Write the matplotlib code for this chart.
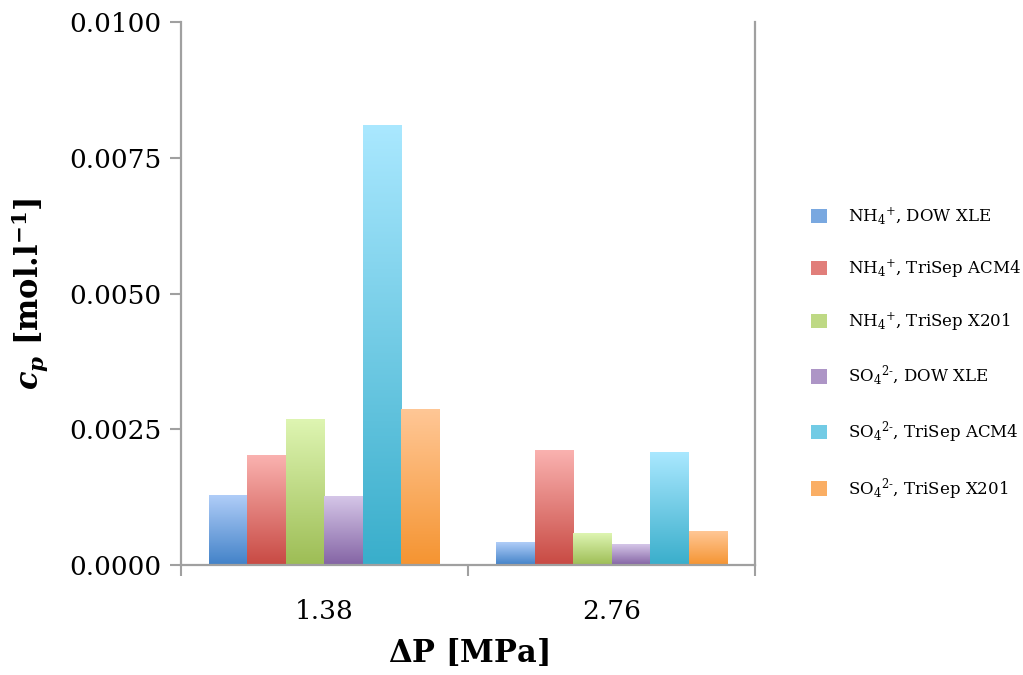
import matplotlib
matplotlib.use("Agg")
import matplotlib.pyplot as plt
import numpy as np
from matplotlib.colors import LinearSegmentedColormap
from matplotlib.patches import Patch

plt.rcParams['font.family'] = 'DejaVu Serif'
plt.rcParams['mathtext.fontset'] = 'dejavuserif'

pressures = ['1.38', '2.76']
series = [r'NH$_4{}^{+}$, DOW XLE',
          r'NH$_4{}^{+}$, TriSep ACM4',
          r'NH$_4{}^{+}$, TriSep X201',
          r'SO$_4{}^{2\text{-}}$, DOW XLE',
          r'SO$_4{}^{2\text{-}}$, TriSep ACM4',
          r'SO$_4{}^{2\text{-}}$, TriSep X201']
nh4_dow = [0.00129, 0.00041]
nh4_acm4 = [0.00201, 0.00212]
nh4_x201 = [0.00269, 0.00059]
so4_dow = [0.00127, 0.00037]
so4_acm4 = [0.00810, 0.00208]
so4_x201 = [0.00287, 0.00061]
values = [nh4_dow, nh4_acm4, nh4_x201, so4_dow, so4_acm4, so4_x201]

# (top colour, bottom colour) for the Excel style gradient fill
colors = [('#b0cdf8', '#4282c8'),
          ('#fab2b0', '#c84a43'),
          ('#def5b2', '#9dbd55'),
          ('#d5c6e8', '#8464a4'),
          ('#aae8ff', '#39aecb'),
          ('#ffc796', '#f59431')]

fig = plt.figure(figsize=(10.23, 6.75), dpi=100)
ax = fig.add_axes([0.1766, 0.1634, 0.7383 - 0.1766, 0.9668 - 0.1634])

x = np.arange(len(pressures))
w = 0.134
grad = np.linspace(0, 1, 256).reshape(-1, 1)
for i, vals in enumerate(values):
    bars = ax.bar(x + (i - 2.5) * w, vals, w, color='none', edgecolor='none')
    cmap = LinearSegmentedColormap.from_list('g%d' % i, [colors[i][1], colors[i][0]])
    for b in bars:
        x0, y0 = b.get_x(), b.get_y()
        ax.imshow(grad, cmap=cmap, origin='lower', aspect='auto',
                  interpolation='bicubic',
                  extent=(x0, x0 + b.get_width(), y0, y0 + b.get_height()),
                  zorder=2)

ax.set_xlim(-0.5, 1.5)
ax.set_ylim(0, 0.01)
ax.set_yticks(np.arange(0, 0.0101, 0.0025))
ax.set_yticklabels(['%.4f' % v for v in np.arange(0, 0.0101, 0.0025)])
ax.set_xticks(x)
ax.set_xticklabels(pressures)
ax.set_xticks([-0.5, 0.5, 1.5], minor=True)
ax.tick_params(axis='x', which='major', length=0, labelsize=19, pad=25)
ax.tick_params(axis='x', which='minor', length=8, width=1.5, color='#a0a0a0')
ax.tick_params(axis='y', length=8, width=1.5, color='#a0a0a0', labelsize=19, pad=6)

for s in ['left', 'right', 'bottom']:
    ax.spines[s].set_color('#a0a0a0')
    ax.spines[s].set_linewidth(1.6)
ax.spines['top'].set_visible(False)

ax.set_xlabel(r'$\mathbf{\Delta}$P [MPa]', fontsize=22, fontweight='bold', labelpad=9)
ax.set_ylabel(r'$\mathbfit{c}_{\mathbfit{p}}$ [mol.l$^{\mathbf{-1}}$]',
              fontsize=22, fontweight='bold', labelpad=14)

handles = [Patch(facecolor=LinearSegmentedColormap.from_list('h', [c[1], c[0]])(0.5))
           for c in colors]
fig.legend(handles, series, loc='center left', bbox_to_anchor=(0.778, 0.476),
           frameon=False, fontsize=12, labelspacing=1.85, handlelength=0.95,
           handleheight=0.95, handletextpad=1.3)

fig.savefig('out.png', dpi=100)
